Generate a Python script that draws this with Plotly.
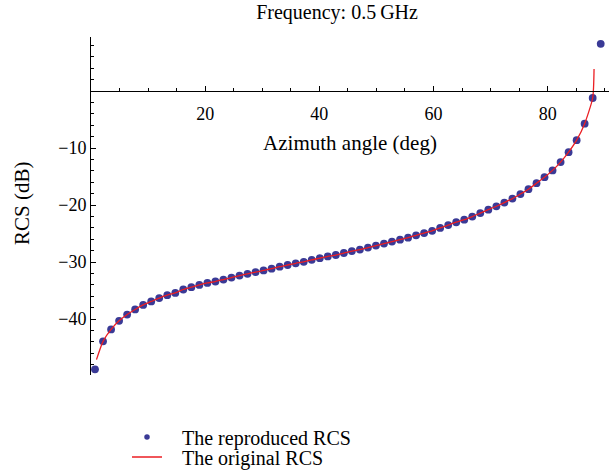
import plotly.graph_objects as go

# Azimuth sample angles (deg) of the reproduced RCS
angle_deg = [
    0.70, 2.11, 3.52, 4.92, 6.33, 7.73, 9.14, 10.55, 11.95, 13.36,
    14.77, 16.17, 17.58, 18.98, 20.39, 21.80, 23.20, 24.61, 26.02, 27.42,
    28.83, 30.23, 31.64, 33.05, 34.45, 35.86, 37.27, 38.67, 40.08, 41.48,
    42.89, 44.30, 45.70, 47.11, 48.52, 49.92, 51.33, 52.73, 54.14, 55.55,
    56.95, 58.36, 59.77, 61.17, 62.58, 63.98, 65.39, 66.80, 68.20, 69.61,
    71.02, 72.42, 73.83, 75.23, 76.64, 78.05, 79.45, 80.86, 82.27, 83.67,
    85.08, 86.48, 87.89, 89.30,
]

# Reproduced RCS (dB)
rcs_reproduced = [
    -48.8, -43.9, -41.8, -40.3, -39.2, -38.3, -37.5, -36.9, -36.3, -35.8,
    -35.4, -34.8, -34.4, -34.0, -33.65, -33.4, -33.05, -32.7, -32.35, -32.05,
    -31.75, -31.45, -31.15, -30.8, -30.5, -30.2, -29.95, -29.6, -29.3, -29.0,
    -28.75, -28.4, -28.05, -27.8, -27.45, -27.1, -26.75, -26.4, -26.05, -25.7,
    -25.3, -24.9, -24.5, -24.0, -23.5, -23.0, -22.55, -22.0, -21.4, -20.8,
    -20.2, -19.55, -18.85, -18.05, -17.2, -16.15, -15.1, -13.9, -12.45, -10.7,
    -8.6, -5.7, -1.2, 8.3,
]

# Original RCS curve: same samples inside, its own end points
line_angle = [0.96] + angle_deg[1:63] + [88.13]
line_rcs = [-47.1] + rcs_reproduced[1:63] + [3.9]

x_ticks = [20, 40, 60, 80]
y_ticks = [-40, -30, -20, -10]

DOT = "rgb(58,58,150)"
RED = "rgb(235,30,35)"
FONT = "Liberation Serif"
PAD = "\u00a0\u00a0\u00a0"

fig = go.Figure()

fig.add_trace(go.Scatter(
    x=angle_deg, y=rcs_reproduced, mode="markers",
    marker=dict(color=DOT, size=7.8),
    showlegend=False, cliponaxis=False,
))
fig.add_trace(go.Scatter(
    x=line_angle, y=line_rcs, mode="lines",
    line=dict(color=RED, width=1.3, shape="spline", smoothing=0.6),
    showlegend=False, cliponaxis=False,
))

# legend entries, one legend box per row
fig.add_trace(go.Scatter(
    x=[None], y=[None], mode="markers", name=PAD + "The reproduced RCS",
    marker=dict(color=DOT, size=5.5), legend="legend",
))
fig.add_trace(go.Scatter(
    x=[None], y=[None], mode="lines", name=PAD + "The original RCS",
    line=dict(color=RED, width=1.3), legend="legend2",
))

y_lo, y_hi = -49.8, 9.5

legend_common = dict(
    xref="container", yref="container", xanchor="left", yanchor="middle",
    font=dict(size=20), itemwidth=30, bgcolor="rgba(0,0,0,0)",
)

fig.update_layout(
    width=614, height=474,
    margin=dict(l=91, r=5, t=37, b=99, autoexpand=False),
    paper_bgcolor="white", plot_bgcolor="white",
    font=dict(family=FONT, size=18, color="black"),
    title=dict(text="Frequency: 0.5\u2009GHz", x=0.549, xanchor="center",
               y=0.974, yanchor="middle", font=dict(size=20)),
    showlegend=True,
    legend=dict(x=127 / 614, y=1 - 437 / 474, **legend_common),
    legend2=dict(x=127 / 614, y=1 - 457 / 474, **legend_common),
    xaxis=dict(
        range=[0, 90.75], anchor="free", position=(0 - y_lo) / (y_hi - y_lo),
        showline=True, linecolor="black", linewidth=1,
        ticks="inside", ticklen=5, tickwidth=1, tickcolor="black",
        tickvals=x_ticks, ticklabelstandoff=6,
        minor=dict(dtick=5, tick0=0, ticks="inside", ticklen=3, tickcolor="black"),
        showgrid=False, zeroline=False,
        title=dict(text="Azimuth angle (deg)", standoff=12, font=dict(size=21)),
    ),
    yaxis=dict(
        range=[y_lo, y_hi],
        showline=True, linecolor="black", linewidth=1,
        ticks="inside", ticklen=5, tickwidth=1, tickcolor="black",
        tickvals=y_ticks, ticklabelstandoff=0,
        minor=dict(dtick=2, tick0=0, ticks="inside", ticklen=3, tickcolor="black"),
        showgrid=False, zeroline=False,
    ),
    annotations=[dict(
        text="RCS (dB)", textangle=-90, showarrow=False,
        xref="paper", yref="paper", x=(22 - 91) / 518, y=0.506,
        xanchor="center", yanchor="middle", font=dict(size=21),
    )],
)

fig.write_html("out.html")
